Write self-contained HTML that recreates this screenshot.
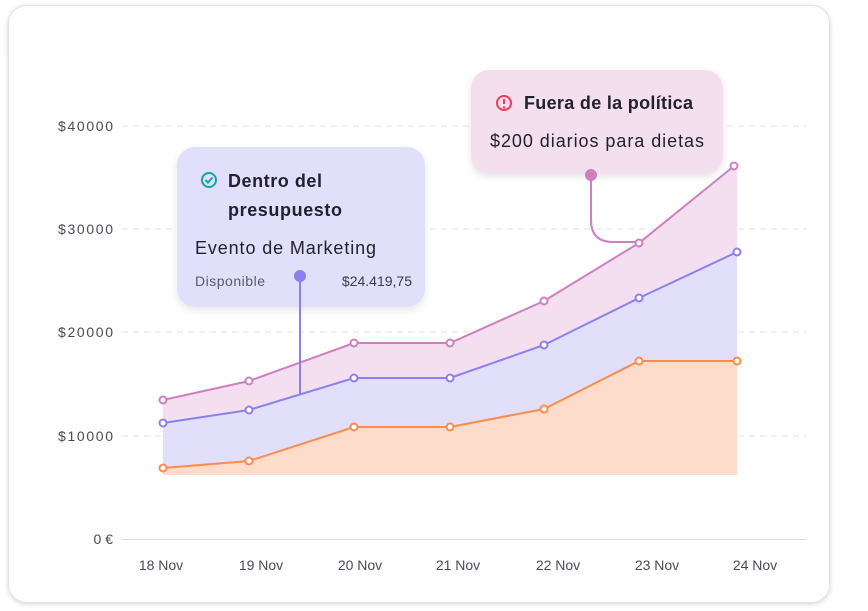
<!DOCTYPE html>
<html><head><meta charset="utf-8"><style>
body{margin:0;width:868px;height:611px;background:#fff;font-family:"Liberation Sans",sans-serif;overflow:hidden}
</style></head><body>
<svg width="868" height="611" style="position:absolute;left:0;top:0">
<defs>
<filter id="sh" x="-20%" y="-20%" width="140%" height="150%"><feDropShadow dx="0" dy="3" stdDeviation="4" flood-color="#000" flood-opacity="0.10"/></filter>
<filter id="sh2" x="-5%" y="-5%" width="110%" height="110%"><feDropShadow dx="0" dy="1" stdDeviation="2" flood-color="#000" flood-opacity="0.18"/></filter>
</defs>
<rect x="8.5" y="5.5" width="821" height="597" rx="18" fill="#fff" stroke="#e3e3e6" filter="url(#sh2)"/>
<g stroke="#e2e2e6" stroke-dasharray="6 5" stroke-width="1">
<line x1="122" y1="126" x2="806" y2="126"/><line x1="122" y1="229" x2="806" y2="229"/>
<line x1="122" y1="332" x2="806" y2="332"/><line x1="122" y1="436" x2="806" y2="436"/>
</g>
<line x1="122" y1="539.5" x2="806" y2="539.5" stroke="#dcdce0"/>
<g font-size="14" fill="#4a4a5a" text-anchor="end">
<text x="113" y="131" textLength="55">$40000</text><text x="113" y="234" textLength="55">$30000</text><text x="113" y="337" textLength="55">$20000</text><text x="113" y="441" textLength="55">$10000</text><text x="113" y="544">0 €</text>
</g>
<g font-size="14" fill="#4a4a5a" text-anchor="middle">
<text x="161" y="570">18 Nov</text><text x="261" y="570">19 Nov</text><text x="360" y="570">20 Nov</text><text x="458" y="570">21 Nov</text><text x="558" y="570">22 Nov</text><text x="657" y="570">23 Nov</text><text x="755" y="570">24 Nov</text>
</g>
<polygon fill="#f3dfef" points="163,400 249,381 354,343 450,343 544,301 639,243 734,166 737,166 737,252 639,298 544,345 450,378 354,378 249,410 163,423"/>
<polygon fill="#e2dffa" points="163,423 249,410 354,378 450,378 544,345 639,298 737,252 737,361 639,361 544,409 450,427 354,427 249,461 163,468"/>
<polygon fill="#fedccb" points="163,468 249,461 354,427 450,427 544,409 639,361 737,361 737,475 163,475"/>
<path d="M591,175 V220 Q591,242 613,242 H639" fill="none" stroke="#cf7fc0" stroke-width="2"/>
<g fill="none" stroke-width="2">
<polyline stroke="#cf7fc0" points="163,400 249,381 354,343 450,343 544,301 639,243 734,166"/>
<polyline stroke="#8b80ee" points="163,423 249,410 354,378 450,378 544,345 639,298 737,252"/>
<polyline stroke="#fd8c4a" points="163,468 249,461 354,427 450,427 544,409 639,361 737,361"/>
</g>
<g fill="#fff" stroke-width="2">
<g stroke="#cf7fc0"><circle cx="163" cy="400" r="3.5"/><circle cx="249" cy="381" r="3.5"/><circle cx="354" cy="343" r="3.5"/><circle cx="450" cy="343" r="3.5"/><circle cx="544" cy="301" r="3.5"/><circle cx="639" cy="243" r="3.5"/><circle cx="734" cy="166" r="3.5"/></g>
<g stroke="#8b80ee"><circle cx="163" cy="423" r="3.5"/><circle cx="249" cy="410" r="3.5"/><circle cx="354" cy="378" r="3.5"/><circle cx="450" cy="378" r="3.5"/><circle cx="544" cy="345" r="3.5"/><circle cx="639" cy="298" r="3.5"/><circle cx="737" cy="252" r="3.5"/></g>
<g stroke="#fd8c4a"><circle cx="163" cy="468" r="3.5"/><circle cx="249" cy="461" r="3.5"/><circle cx="354" cy="427" r="3.5"/><circle cx="450" cy="427" r="3.5"/><circle cx="544" cy="409" r="3.5"/><circle cx="639" cy="361" r="3.5"/><circle cx="737" cy="361" r="3.5"/></g>
</g>
<rect x="177" y="147" width="248" height="160" rx="18" fill="#e2dffa" filter="url(#sh)"/>
<rect x="471" y="70" width="252" height="104" rx="18" fill="#f4dfee" filter="url(#sh)"/>
<line x1="300" y1="276" x2="300" y2="394" stroke="#8b80ee" stroke-width="2"/>
<circle cx="300" cy="276" r="6" fill="#8b80ee"/>
<circle cx="591" cy="175" r="6" fill="#cf7fc0"/>
<circle cx="209" cy="180" r="7" fill="none" stroke="#14a3a8" stroke-width="2"/>
<polyline points="205.5,180 208,182.5 212.5,177.5" fill="none" stroke="#14a3a8" stroke-width="2"/>
<text x="228" y="187" font-size="18" font-weight="bold" fill="#22222e" textLength="94">Dentro del</text>
<text x="228" y="216" font-size="18" font-weight="bold" fill="#22222e" textLength="114">presupuesto</text>
<text x="195" y="254" font-size="18" fill="#22222e" textLength="181">Evento de Marketing</text>
<text x="195" y="286" font-size="14" fill="#5a5a68" textLength="70">Disponible</text>
<text x="412" y="286" font-size="14" fill="#3a3a48" text-anchor="end">$24.419,75</text>
<circle cx="504" cy="103" r="7" fill="none" stroke="#f0395f" stroke-width="2"/>
<line x1="504" y1="99" x2="504" y2="104" stroke="#f0395f" stroke-width="2"/>
<circle cx="504" cy="107.5" r="1.2" fill="#f0395f"/>
<text x="524" y="109" font-size="18" font-weight="bold" fill="#22222e" textLength="169">Fuera de la política</text>
<text x="490" y="147" font-size="18" fill="#22222e" textLength="214">$200 diarios para dietas</text>
</svg>
</body></html>
